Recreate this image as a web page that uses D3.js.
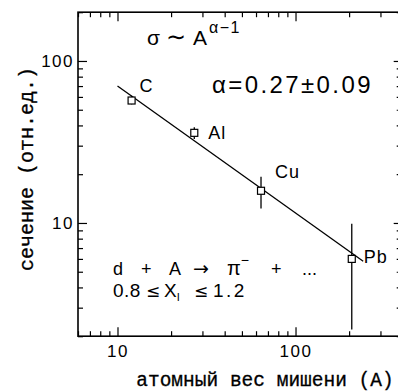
<!DOCTYPE html>
<html>
<head>
<meta charset="utf-8">
<script src="https://cdn.jsdelivr.net/npm/d3@7"></script>
<style>
  html, body { margin: 0; padding: 0; background: #fff; }
  svg { display: block; }
  .tick text { font-family: "Liberation Sans", Arial, sans-serif; }
</style>
</head>
<body>
<svg id="chart" width="398" height="391"></svg>
<script>
// Targets and measured cross sections (relative units)
const targets   = ["C", "Al", "Cu", "Pb"];
const atomicA   = [12, 27, 64, 207];
const sigma     = [57, 36, 15.8, 6.0];
const sigmaLow  = [54, 33, 12.3, 2.2];
const sigmaHigh = [61, 39, 19.3, 9.9];

// Power-law fit σ ~ A^(α-1), drawn between its end points
const fitA     = [10, 240];
const fitSigma = [70, 5.8];

// Axis ticks
const xMajor = [10, 100];
const xMinor = [6, 7, 8, 9, 20, 30, 40, 50, 60, 70, 80, 90, 200, 300, 400];
const yMajor = [10, 100];
const yMinor = [2, 3, 4, 5, 6, 7, 8, 9, 20, 30, 40, 50, 60, 70, 80, 90, 200];

const svg = d3.select("#chart");

const x = d3.scaleLog().domain([6, 400]).range([78, 402.7]);
const y = d3.scaleLog().domain([2, 200]).range([336.2, 12.2]);

const plotL = x.range()[0], plotR = x.range()[1];
const plotT = y.range()[1], plotB = y.range()[0];

const fmt = d => String(d);
const majorLen = 9, minorLen = 5;

function drawAxis(gen, tx, ty, vals, len, labels, pad) {
  const g = svg.append("g").attr("transform", `translate(${tx},${ty})`)
    .call(gen.tickValues(vals).tickSize(-len).tickPadding(labels ? pad : 0)
      .tickFormat(labels ? fmt : () => ""));
  g.select(".domain").remove();
  g.selectAll(".tick line").attr("stroke", "#000").attr("stroke-width", 1.2);
  return g;
}

// bottom & top
const gxb = drawAxis(d3.axisBottom(x), 0, plotB, xMajor, majorLen, true, 9);
drawAxis(d3.axisBottom(x), 0, plotB, xMinor, minorLen, false);
drawAxis(d3.axisTop(x), 0, plotT, xMajor, majorLen, false);
drawAxis(d3.axisTop(x), 0, plotT, xMinor, minorLen, false);
// left & right
const gyl = drawAxis(d3.axisLeft(y), plotL, 0, yMajor, majorLen, true, 4);
drawAxis(d3.axisLeft(y), plotL, 0, yMinor, minorLen, false);
drawAxis(d3.axisRight(y), plotR, 0, yMajor, majorLen, false);
drawAxis(d3.axisRight(y), plotR, 0, yMinor, minorLen + 1, false);

gxb.selectAll(".tick text").attr("font-size", 17).attr("letter-spacing", 1.5)
  .attr("fill", "#000");
gyl.selectAll(".tick text").attr("font-size", 17).attr("letter-spacing", 1.5)
  .attr("fill", "#000");

// frame
svg.append("rect")
  .attr("x", plotL).attr("y", plotT)
  .attr("width", plotR - plotL).attr("height", plotB - plotT)
  .attr("fill", "none").attr("stroke", "#000").attr("stroke-width", 1.6);

// fit line
svg.append("line")
  .attr("x1", x(fitA[0])).attr("y1", y(fitSigma[0]))
  .attr("x2", x(fitA[1])).attr("y2", y(fitSigma[1]))
  .attr("stroke", "#000").attr("stroke-width", 1.3);

// error bars
const pts = targets.map((t, i) => ({ t, a: atomicA[i], s: sigma[i], lo: sigmaLow[i], hi: sigmaHigh[i] }));
svg.append("g").selectAll("line").data(pts).join("line")
  .attr("x1", d => x(d.a)).attr("x2", d => x(d.a))
  .attr("y1", d => y(d.hi)).attr("y2", d => y(d.lo))
  .attr("stroke", "#000").attr("stroke-width", 1.3);

// open square markers
const sq = 7;
svg.append("g").selectAll("rect").data(pts).join("rect")
  .attr("x", d => x(d.a) - sq / 2).attr("y", d => y(d.s) - sq / 2)
  .attr("width", sq).attr("height", sq)
  .attr("fill", "#fff").attr("stroke", "#000").attr("stroke-width", 1.2);

// target names
const sans = "'Liberation Sans', Arial, sans-serif";
const symb = "'DejaVu Sans', sans-serif";
const labelPos = { C: [8, -9], Al: [14, 6], Cu: [14, -13], Pb: [12, 4] };
svg.append("g").selectAll("text").data(pts).join("text")
  .attr("x", d => x(d.a) + labelPos[d.t][0])
  .attr("y", d => y(d.s) + labelPos[d.t][1])
  .attr("font-family", sans).attr("font-size", 18).attr("letter-spacing", 1)
  .text(d => d.t);

// formula annotations
const f1 = svg.append("text").attr("y", 45)
  .attr("font-family", sans).attr("font-size", 21);
f1.append("tspan").attr("x", 147).text("σ");
f1.append("tspan").attr("x", 166).attr("font-family", symb).attr("font-size", 24).text("∼");
f1.append("tspan").attr("x", 193).text("A");
f1.append("tspan").attr("x", 209).attr("dy", -12).attr("font-size", 16)
  .attr("letter-spacing", 1.5).text("α−1");

svg.append("text").attr("x", 212).attr("y", 93)
  .attr("font-family", sans).attr("font-size", 24).attr("letter-spacing", 2.4)
  .text("α=0.27±0.09");

// reaction and kinematic range
const r1 = svg.append("text").attr("y", 275)
  .attr("font-family", sans).attr("font-size", 18);
r1.append("tspan").attr("x", 113).text("d");
r1.append("tspan").attr("x", 141).text("+");
r1.append("tspan").attr("x", 169).text("A");
r1.append("tspan").attr("x", 193).attr("font-family", symb).attr("font-size", 19).text("→");
r1.append("tspan").attr("x", 227).attr("font-size", 20).text("π");
r1.append("tspan").attr("dy", -10).attr("font-size", 14).text("−");
r1.append("tspan").attr("x", 271).attr("dy", 10).text("+");
r1.append("tspan").attr("x", 302).text("...");

const r2 = svg.append("text").attr("y", 297)
  .attr("font-family", sans).attr("font-size", 19);
r2.append("tspan").attr("x", 113).attr("letter-spacing", 0.5).text("0.8");
r2.append("tspan").attr("x", 146).attr("font-family", symb).attr("font-size", 17).text("≤");
r2.append("tspan").attr("x", 164).text("X");
r2.append("tspan").attr("dy", 4).attr("font-size", 11).text("I");
r2.append("tspan").attr("x", 194).attr("dy", -4).attr("font-family", symb).attr("font-size", 17).text("≤");
r2.append("tspan").attr("x", 213).attr("letter-spacing", 2.5).text("1.2");

// axis titles
const mono = "'Liberation Mono', 'DejaVu Sans Mono', monospace";
svg.append("text").attr("x", 265).attr("y", 386).attr("text-anchor", "middle")
  .attr("font-family", mono).attr("font-size", 19.5)
  .attr("stroke", "#000").attr("stroke-width", 0.3)
  .text("атомный вес мишени (A)");
svg.append("text").attr("transform", "translate(33,169) rotate(-90)")
  .attr("text-anchor", "middle")
  .attr("font-family", mono).attr("font-size", 20)
  .attr("stroke", "#000").attr("stroke-width", 0.3)
  .text("сечение (отн.ед.)");
</script>
</body>
</html>
